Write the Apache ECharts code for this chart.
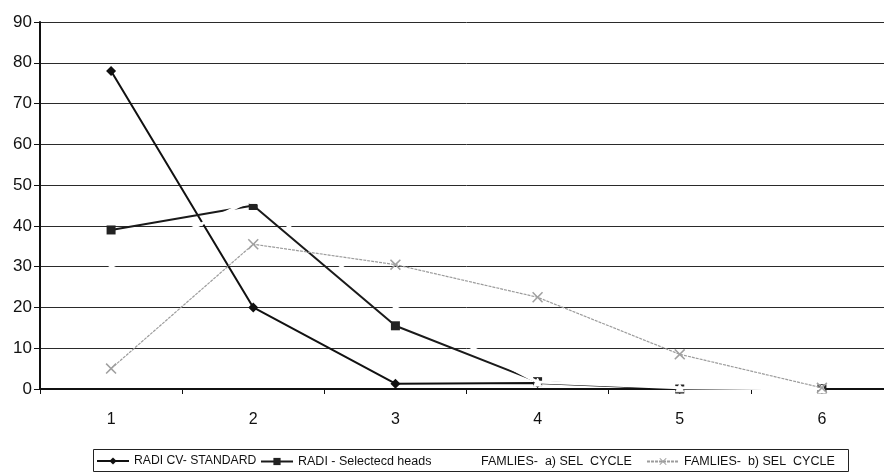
<!DOCTYPE html>
<html>
<head>
<meta charset="utf-8">
<script src="https://cdn.jsdelivr.net/npm/echarts@6/dist/echarts.min.js"></script>
<style>
  html, body { margin: 0; padding: 0; background: #fff; overflow: hidden; }
  #chart { width: 893px; height: 473px; }
</style>
</head>
<body>
<div id="chart"></div>
<script>
// Selection cycles on the x axis
const cycles = ['1', '2', '3', '4', '5', '6'];

// Series values per cycle
const radiStandard = [78, 20, 1.3, 1.5, 0, 0];
const radiSelected = [39, 45, 15.5, 1.8, 0, 0];
const familiesA = [30, 46.5, 20, 1.7, 0.3, 0];
const familiesB = [5, 35.5, 30.5, 22.5, 8.5, 0.3];

// Series names as shown in the legend
const names = [
  'RADI CV- STANDARD',
  'RADI - Selectecd heads',
  'FAMLIES-  a) SEL  CYCLE',
  'FAMLIES-  b) SEL  CYCLE'
];

const FONT = '"Liberation Sans", Arial, sans-serif';
const crossPath = 'path://M0,1 L1,0 L5,4 L9,0 L10,1 L6,5 L10,9 L9,10 L5,6 L1,10 L0,9 L4,5 Z';

const chart = echarts.init(document.getElementById('chart'), null, { renderer: 'canvas' });

// one legend entry per component so each can sit at its own column
function legendAt(left, name, size) {
  return {
    left: left,
    top: 455,
    padding: 0,
    itemWidth: 32,
    itemHeight: 9,
    itemGap: 0,
    data: [name],
    selectedMode: false,
    textStyle: { fontFamily: FONT, fontSize: size, color: '#111' }
  };
}

chart.setOption({
  animation: false,
  backgroundColor: '#fff',
  grid: { left: 40, top: 22, right: 0, height: 367, containLabel: false },
  xAxis: {
    type: 'category',
    data: cycles,
    boundaryGap: true,
    axisLine: { show: true, lineStyle: { color: '#111', width: 2 } },
    axisTick: { show: true, alignWithLabel: false, length: 5, lineStyle: { color: '#111', width: 1 } },
    axisLabel: { fontFamily: FONT, fontSize: 16, color: '#111', margin: 23 },
    splitLine: { show: false }
  },
  yAxis: {
    type: 'value',
    min: 0,
    max: 90,
    interval: 10,
    axisLine: { show: true, lineStyle: { color: '#111', width: 2 } },
    axisTick: { show: true, length: 6, lineStyle: { color: '#111', width: 1 } },
    axisLabel: { fontFamily: FONT, fontSize: 17, color: '#111', margin: 8 },
    splitLine: { show: true, lineStyle: { color: '#2a2a2a', width: 1 } }
  },
  legend: [
    legendAt(96, names[0], 12.2),
    legendAt(260, names[1], 12.5),
    legendAt(443, names[2], 12.5),
    legendAt(646, names[3], 12.5)
  ],
  graphic: [{
    type: 'rect',
    shape: { x: 93.5, y: 449.5, width: 755, height: 22 },
    style: { fill: null, stroke: '#222', lineWidth: 1 },
    silent: true
  }],
  series: [
    {
      name: names[0],
      type: 'line',
      data: radiStandard,
      symbol: 'diamond',
      symbolSize: 10,
      lineStyle: { color: '#111', width: 2 },
      itemStyle: { color: '#111' },
      z: 3
    },
    {
      name: names[1],
      type: 'line',
      data: radiSelected,
      symbol: 'rect',
      symbolSize: 9,
      lineStyle: { color: '#1a1a1a', width: 2 },
      itemStyle: { color: '#222' },
      z: 3
    },
    {
      name: names[2],
      type: 'line',
      data: familiesA,
      symbol: 'triangle',
      symbolSize: 8,
      lineStyle: { color: '#fff', width: 3 },
      itemStyle: { color: '#fff', borderColor: '#fff', borderWidth: 1 },
      z: 4
    },
    {
      name: names[3],
      type: 'line',
      data: familiesB,
      symbol: crossPath,
      symbolSize: 11,
      lineStyle: { color: '#9c9c9c', width: 1.2, type: [3, 1] },
      itemStyle: { color: '#a0a0a0' },
      z: 5
    }
  ]
});
</script>
</body>
</html>
